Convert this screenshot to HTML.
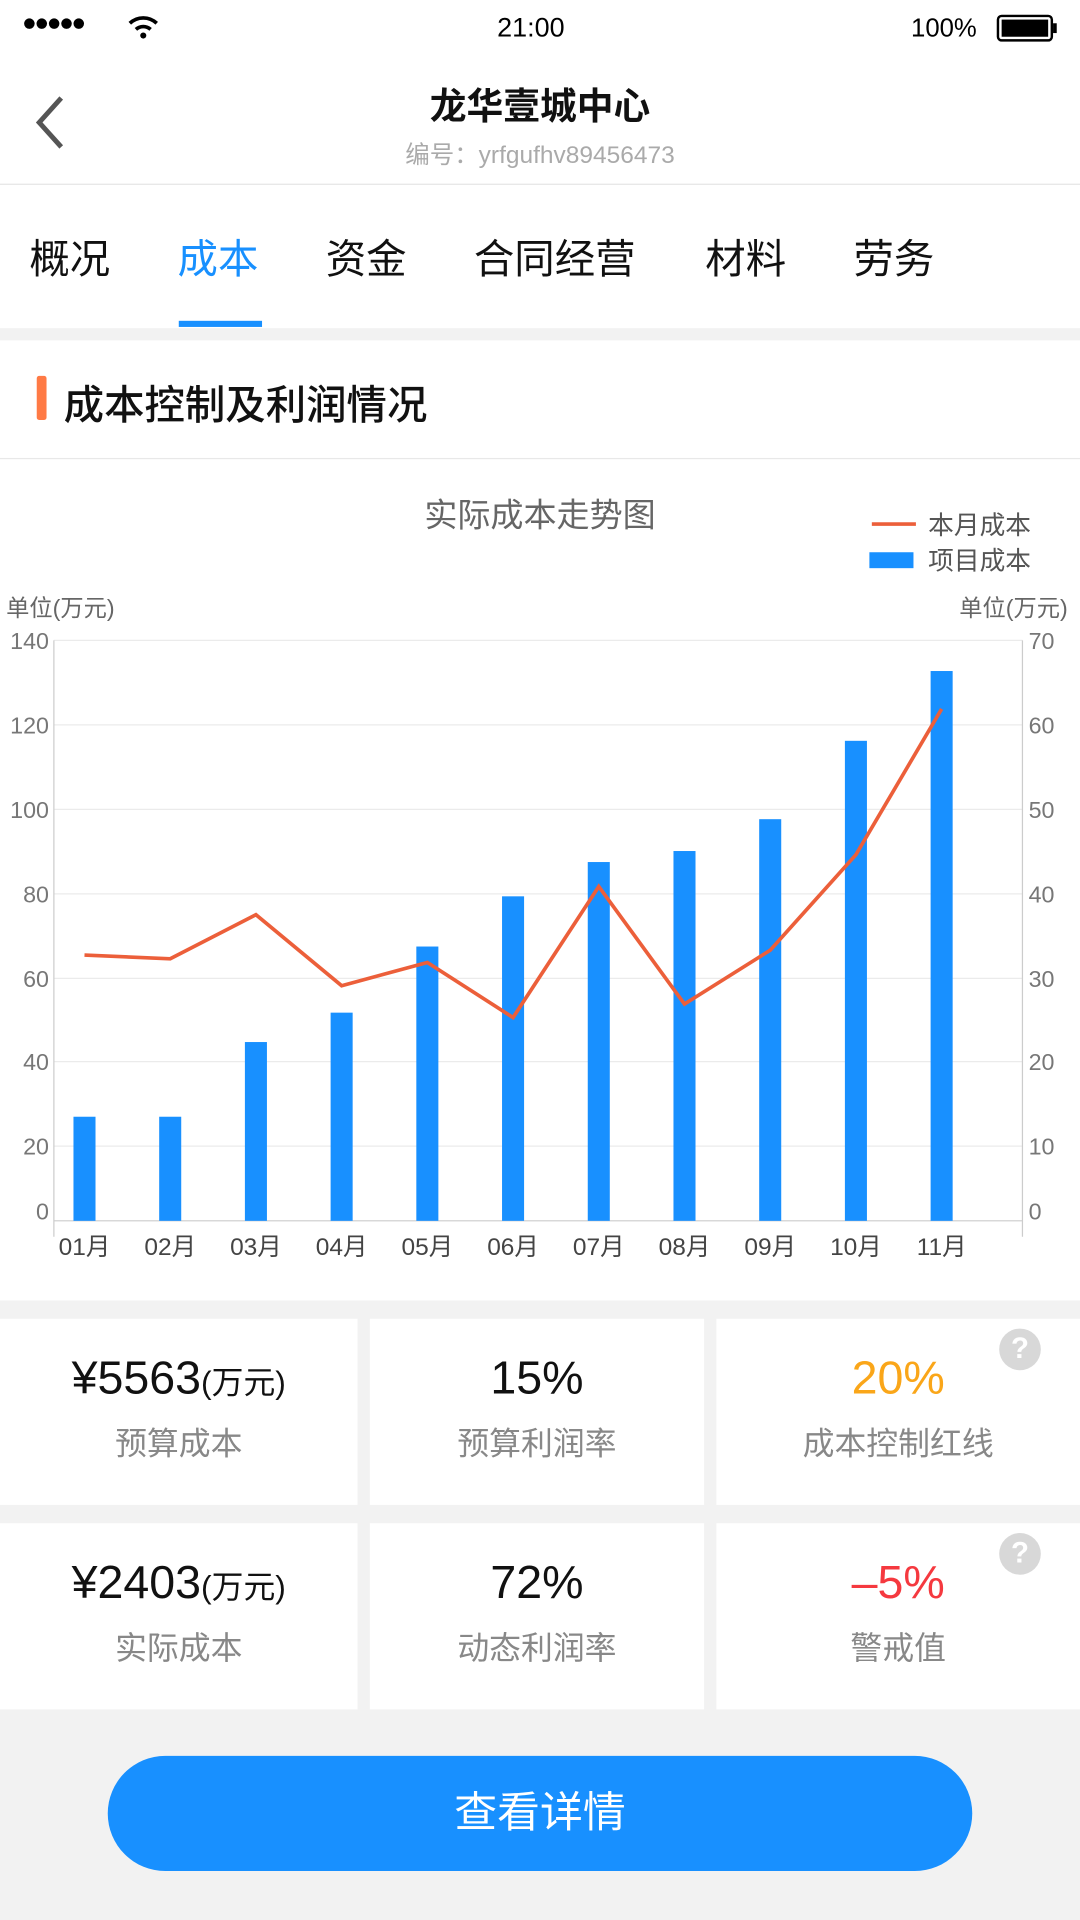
<!DOCTYPE html>
<html><head><meta charset="utf-8"><style>
*{margin:0;padding:0;box-sizing:border-box}
body{width:1080px;height:1920px;overflow:hidden;background:#f2f2f2;font-family:"Liberation Sans","Noto Sans CJK SC",sans-serif}
#w{width:882px;height:1568px;transform:scale(1.22449);transform-origin:0 0;position:relative;background:#f2f2f2}
.a{position:absolute;white-space:nowrap}
.card{position:absolute;background:#fff}
.big{position:absolute;width:100%;text-align:center;font-size:38px;color:#111}
.lab{position:absolute;width:100%;text-align:center;font-size:26px;color:#888}
.q{position:absolute;right:32px;top:8px;width:34px;height:34px;border-radius:50%;background:#d8d8d8;color:#fff;font-size:24px;text-align:center;line-height:34px;font-weight:bold}
</style></head><body><div id="w">
<div class="card" style="left:0;top:0;width:882px;height:268px"></div>
<div class="a" style="left:18px;top:8px;font-size:20px;letter-spacing:-2px">●●●●●</div>
<svg class="a" style="left:104px;top:12px" width="26" height="20"><path d="M2 7 A16 16 0 0 1 24 7" stroke="#000" stroke-width="3" fill="none"/><path d="M7 12 A9 9 0 0 1 19 12" stroke="#000" stroke-width="3" fill="none"/><circle cx="13" cy="17" r="2.5"/></svg>
<div class="a" style="left:406px;top:10px;font-size:22px">21:00</div>
<div class="a" style="left:744px;top:12px;font-size:21px">100%</div>
<div class="a" style="left:814px;top:12px;width:46px;height:22px;border:2px solid #000;border-radius:4px;padding:2px"><div style="background:#000;width:100%;height:100%"></div></div>
<div class="a" style="left:860px;top:19px;width:3px;height:8px;background:#000"></div>
<svg class="a" style="left:26px;top:78px" width="30" height="44"><path d="M24 2 L6 22 L24 42" stroke="#555" stroke-width="4" fill="none"/></svg>
<div class="a" style="left:0;width:882px;top:62px;text-align:center;font-size:30px;color:#111;font-weight:bold">龙华壹城中心</div>
<div class="a" style="left:0;width:882px;top:110px;text-align:center;font-size:20px;color:#aaa">编号：yrfgufhv89456473</div>
<div class="a" style="left:0;top:150px;width:882px;height:1px;background:#e5e5e5"></div>
<div class="a" style="left:24px;top:185px;font-size:33px;color:#111">概况</div>
<div class="a" style="left:145px;top:185px;font-size:33px;color:#1890ff">成本</div>
<div class="a" style="left:146px;top:262px;width:68px;height:5px;background:#1890ff"></div>
<div class="a" style="left:266px;top:185px;font-size:33px;color:#111">资金</div>
<div class="a" style="left:387px;top:185px;font-size:33px;color:#111">合同经营</div>
<div class="a" style="left:576px;top:185px;font-size:33px;color:#111">材料</div>
<div class="a" style="left:697px;top:185px;font-size:33px;color:#111">劳务</div>
<div class="card" style="left:0;top:278px;width:882px;height:784px"></div>
<div class="a" style="left:30px;top:307px;width:8px;height:36px;background:#ff7a45;border-radius:2px"></div>
<div class="a" style="left:52px;top:304px;font-size:33px;color:#111;font-weight:500">成本控制及利润情况</div>
<div class="a" style="left:0;top:374px;width:882px;height:1px;background:#e8e8e8"></div>
<svg class="a" style="left:0;top:380px" width="882" height="680" font-family="Liberation Sans,Noto Sans CJK SC,sans-serif">
<g transform="translate(0,-380)">
<text x="441" y="430" font-size="27" fill="#666" text-anchor="middle">实际成本走势图</text>
<line x1="712" y1="428" x2="748" y2="428" stroke="#ec5f3a" stroke-width="3"/>
<text x="758" y="436" font-size="21" fill="#555">本月成本</text>
<rect x="710" y="451" width="36" height="13" fill="#1890ff"/>
<text x="758" y="465" font-size="21" fill="#555">项目成本</text>
<text x="5" y="503" font-size="19" fill="#666">单位(万元)</text>
<text x="872" y="503" font-size="19" fill="#666" text-anchor="end">单位(万元)</text>
<g stroke="#ebebeb" stroke-width="1">
<line x1="44" y1="523" x2="835" y2="523"/><line x1="44" y1="592" x2="835" y2="592"/><line x1="44" y1="661" x2="835" y2="661"/><line x1="44" y1="730" x2="835" y2="730"/><line x1="44" y1="799" x2="835" y2="799"/><line x1="44" y1="867" x2="835" y2="867"/><line x1="44" y1="936" x2="835" y2="936"/>
</g>
<line x1="44" y1="523" x2="44" y2="1010" stroke="#ccc"/><line x1="835" y1="523" x2="835" y2="1010" stroke="#ccc"/>
<line x1="44" y1="997" x2="835" y2="997" stroke="#ccc"/>
<g font-size="19" fill="#777" text-anchor="end">
<text x="40" y="530">140</text><text x="40" y="599">120</text><text x="40" y="668">100</text><text x="40" y="737">80</text><text x="40" y="806">60</text><text x="40" y="874">40</text><text x="40" y="943">20</text><text x="40" y="996">0</text>
</g>
<g font-size="19" fill="#777">
<text x="840" y="530">70</text><text x="840" y="599">60</text><text x="840" y="668">50</text><text x="840" y="737">40</text><text x="840" y="806">30</text><text x="840" y="874">20</text><text x="840" y="943">10</text><text x="840" y="996">0</text>
</g>
<g fill="#1890ff">
<rect x="60" y="912" width="18" height="85"/><rect x="130" y="912" width="18" height="85"/><rect x="200" y="851" width="18" height="146"/><rect x="270" y="827" width="18" height="170"/><rect x="340" y="773" width="18" height="224"/><rect x="410" y="732" width="18" height="265"/><rect x="480" y="704" width="18" height="293"/><rect x="550" y="695" width="18" height="302"/><rect x="620" y="669" width="18" height="328"/><rect x="690" y="605" width="18" height="392"/><rect x="760" y="548" width="18" height="449"/>
</g>
<polyline points="69,780 139,783 209,747 279,805 349,786 419,831 489,724 559,820 629,776 699,698 769,579" fill="none" stroke="#ec5f3a" stroke-width="3"/>
<g font-size="20" fill="#444" text-anchor="middle">
<text x="69" y="1025">01月</text><text x="139" y="1025">02月</text><text x="209" y="1025">03月</text><text x="279" y="1025">04月</text><text x="349" y="1025">05月</text><text x="419" y="1025">06月</text><text x="489" y="1025">07月</text><text x="559" y="1025">08月</text><text x="629" y="1025">09月</text><text x="699" y="1025">10月</text><text x="769" y="1025">11月</text>
</g></g></svg>
<div class="card" style="left:0;top:1077px;width:292px;height:152px"><div class="big" style="top:28px">¥5563<span style="font-size:26px">(万元)</span></div><div class="lab" style="top:82px">预算成本</div></div>
<div class="card" style="left:302px;top:1077px;width:273px;height:152px"><div class="big" style="top:28px">15%</div><div class="lab" style="top:82px">预算利润率</div></div>
<div class="card" style="left:585px;top:1077px;width:297px;height:152px"><div class="q">?</div><div class="big" style="top:28px;color:#faa619">20%</div><div class="lab" style="top:82px">成本控制红线</div></div>
<div class="card" style="left:0;top:1244px;width:292px;height:152px"><div class="big" style="top:28px">¥2403<span style="font-size:26px">(万元)</span></div><div class="lab" style="top:82px">实际成本</div></div>
<div class="card" style="left:302px;top:1244px;width:273px;height:152px"><div class="big" style="top:28px">72%</div><div class="lab" style="top:82px">动态利润率</div></div>
<div class="card" style="left:585px;top:1244px;width:297px;height:152px"><div class="q">?</div><div class="big" style="top:28px;color:#f5393f">–5%</div><div class="lab" style="top:82px">警戒值</div></div>
<div class="a" style="left:88px;top:1434px;width:706px;height:94px;border-radius:47px;background:#1890ff;color:#fff;font-size:35px;text-align:center;line-height:94px">查看详情</div>
</div></body></html>
